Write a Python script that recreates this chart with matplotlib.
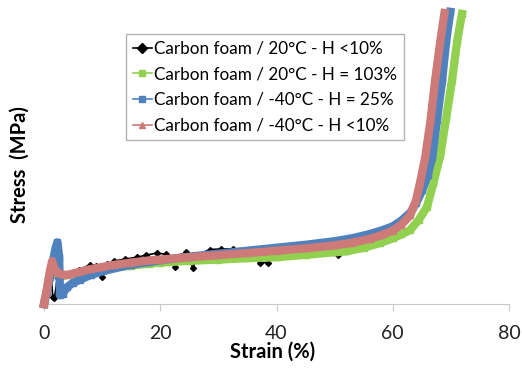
import matplotlib
matplotlib.use("Agg")
import matplotlib.pyplot as plt
from matplotlib.lines import Line2D

plt.rcParams["font.family"] = ["Lato", "DejaVu Sans"]

# Strain (%) / stress (arbitrary units, no y tick labels on the original)
black_strain = [0, 0.4, 0.8, 1.2, 1.5, 1.8, 2.3, 3, 4.5, 6, 7.9, 9, 10, 10.8, 12, 14, 16,
                17.5, 19.4, 21, 22.5, 23.5, 24.5, 25.6, 26.5, 28.5, 30.5, 32.5, 34, 36,
                37.2, 38.5, 40, 43, 46, 48, 50.6, 52, 55, 58, 60, 62, 63.5, 64.8, 66,
                67, 67.8, 68.5, 69]
black_stress = [0, 0.4, 0.85, 1.15, 0.25, 0.2, 0.9, 1.0, 1.05, 1.15, 1.33, 1.3, 0.9, 1.35,
                1.45, 1.52, 1.58, 1.65, 1.72, 1.68, 1.25, 1.62, 1.74, 1.22, 1.66, 1.84,
                1.86, 1.86, 1.78, 1.8, 1.39, 1.4, 1.88, 1.92, 1.96, 2.0, 1.66, 2.08, 2.2,
                2.38, 2.55, 2.85, 3.2, 3.9, 4.8, 6.0, 7.2, 8.4, 9.3]

green_strain = [0, 0.6, 1.2, 1.6, 2.2, 3, 5, 8, 10, 15, 18, 20, 25, 30, 35, 40, 45, 50,
                52, 55, 57.8, 60, 61.5, 63, 64.5, 65.9, 67, 68.2, 69.2, 70.2, 71.1, 71.9]
green_stress = [0, 0.6, 1.2, 1.3, 1.0, 0.95, 1.0, 1.1, 1.17, 1.3, 1.36, 1.4, 1.46, 1.5,
                1.55, 1.58, 1.66, 1.75, 1.78, 1.9, 2.06, 2.22, 2.35, 2.5, 2.85, 3.28,
                4.09, 5.05, 6.3, 7.57, 8.9, 9.8]

blue_strain = [0, 0.5, 1.0, 1.5, 2.0, 2.3, 2.6, 2.75, 3.2, 4, 5, 6.2, 8, 10, 12, 15, 18,
               20, 25, 30, 35, 40, 45, 50, 53, 56, 58, 60, 61.5, 63, 64, 65.1, 66, 66.8,
               67.6, 68.5, 69.2, 69.9]
blue_stress = [0, 0.4, 0.9, 1.4, 1.9, 2.08, 1.6, 0.3, 0.35, 0.57, 0.72, 0.82, 0.98, 1.1,
               1.2, 1.33, 1.42, 1.48, 1.6, 1.7, 1.8, 1.9, 2.0, 2.12, 2.22, 2.36, 2.48,
               2.62, 2.82, 3.08, 3.4, 3.85, 4.35, 4.97, 6.2, 7.57, 8.9, 9.87]

pink_strain = [0, 0.5, 1.0, 1.4, 1.8, 2.4, 3, 4, 6, 8, 10, 12, 15, 18, 20, 25, 30, 35, 40,
               45, 50, 53, 56, 58, 60, 61.5, 63, 64, 64.7, 65.6, 66.5, 67.3, 68.2, 68.9]
pink_stress = [0, 0.5, 1.1, 1.45, 1.2, 1.05, 1.0, 0.98, 1.08, 1.18, 1.25, 1.32, 1.4, 1.47,
               1.5, 1.58, 1.65, 1.72, 1.8, 1.88, 1.98, 2.07, 2.2, 2.32, 2.48, 2.68, 3.0,
               3.5, 4.1, 4.97, 6.2, 7.57, 8.9, 9.83]

labels = ["Carbon foam / 20°C - H <10%", "Carbon foam / 20°C - H = 103%",
          "Carbon foam / -40°C - H = 25%", "Carbon foam / -40°C - H <10%"]
colors = ["#000000", "#92d050", "#4f81bd", "#cd7a78"]
markers = ["D", "s", "s", "^"]

fig = plt.figure(figsize=(5.22, 3.73), dpi=100)
ax = fig.add_axes([44 / 522, 69 / 373, 465 / 522, 296 / 373])

ax.plot(black_strain, black_stress, color=colors[0], lw=1.2, marker="D", ms=3,
        clip_on=False, zorder=2)
ax.plot(green_strain, green_stress, color=colors[1], lw=6, marker="s", ms=4.5,
        clip_on=False, zorder=3)
ax.plot(blue_strain, blue_stress, color=colors[2], lw=6, marker="s", ms=4.5,
        clip_on=False, zorder=4)
ax.plot(pink_strain, pink_stress, color=colors[3], lw=6, marker="^", ms=4.5,
        clip_on=False, zorder=5)

ax.set_xlim(0, 80)
ax.set_ylim(0, 10)
ax.set_xticks([0, 20, 40, 60, 80])
ax.set_yticks([])
for s in ["left", "top", "right"]:
    ax.spines[s].set_visible(False)
ax.spines["bottom"].set_color("#c8c8c8")
ax.tick_params(axis="x", colors="#c8c8c8", length=5, labelcolor="#222222",
               labelsize=14, pad=10)

fig.text(273 / 522, 1 - 352 / 373, "Strain (%)", ha="center", va="center",
         fontsize=14.5, fontweight="bold")
fig.text(20 / 522, 1 - 165 / 373, "Stress  (MPa)", ha="center", va="center",
         rotation=90, fontsize=14.5, fontweight="bold")

handles = [Line2D([], [], color=c, marker=m, ms=5, lw=1.2) for c, m in zip(colors, markers)]
leg = ax.legend(handles, labels, loc="upper left", bbox_to_anchor=(126 / 522, 1 - 34 / 373),
                bbox_transform=fig.transFigure, fontsize=12.3, frameon=True, fancybox=False,
                handlelength=1.1, handletextpad=0.15, labelspacing=0.56, borderpad=0.4,
                borderaxespad=0)
leg.get_frame().set_edgecolor("#a0a0a0")
leg.get_frame().set_linewidth(1)

fig.savefig("out.png", dpi=100)
